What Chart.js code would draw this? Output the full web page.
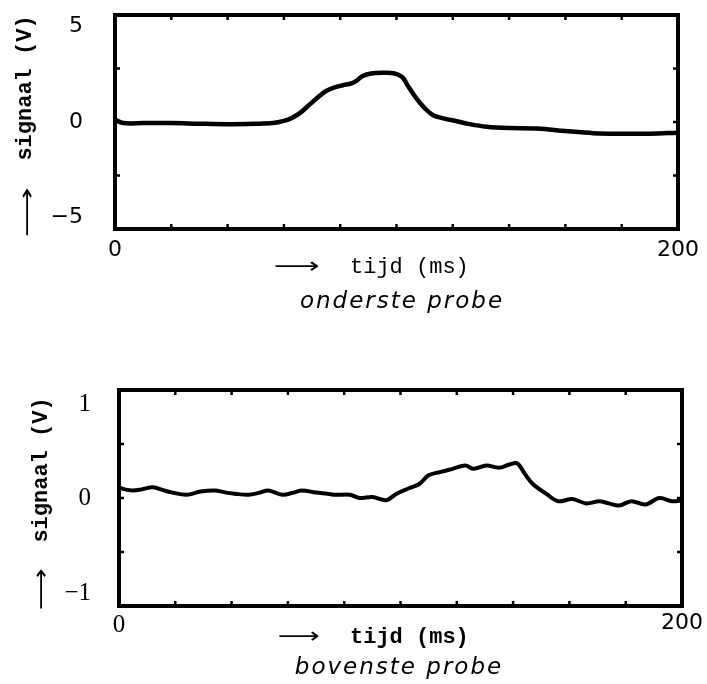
<!DOCTYPE html>
<html>
<head>
<meta charset="utf-8">
<script src="https://cdn.jsdelivr.net/npm/chart.js@4.4.1/dist/chart.umd.min.js"></script>
<style>
  html, body { margin: 0; padding: 0; background: #fff; }
  body { width: 707px; height: 684px; position: relative; overflow: hidden; }
  .box { position: absolute; left: 0; width: 707px; height: 342px; }
  #b1 { top: 0; }
  #b2 { top: 342px; }
</style>
</head>
<body>
<div class="box" id="b1"><canvas id="c1" width="707" height="342"></canvas></div>
<div class="box" id="b2"><canvas id="c2" width="707" height="342"></canvas></div>
<script>
// ---- data: top chart (onderste probe) ----
const timeTop = [0, 3, 10, 20, 30, 40, 50, 56, 60, 63, 66, 69, 72, 75, 78, 81, 84, 86, 88, 91, 95, 99, 102, 104, 106, 108, 110, 113, 117, 121, 126, 132, 140, 150, 160, 170, 180, 190, 200];
const signalTop = [0.1, -0.05, -0.05, -0.05, -0.08, -0.1, -0.08, -0.05, 0.05, 0.2, 0.45, 0.8, 1.15, 1.45, 1.62, 1.72, 1.8, 1.95, 2.15, 2.27, 2.3, 2.28, 2.1, 1.7, 1.3, 0.95, 0.65, 0.32, 0.16, 0.05, -0.1, -0.22, -0.28, -0.3, -0.42, -0.52, -0.55, -0.55, -0.5];
// ---- data: bottom chart (bovenste probe) ----
const timeBottom = [0, 2, 5, 8, 12, 16, 19, 24, 29, 34, 38, 41, 46, 50, 53, 58, 62, 65, 70, 74, 77, 82, 85.5, 90, 95, 98.6, 103, 106.7, 110, 114, 118.5, 123, 126, 130.5, 135, 138.7, 141.5, 144, 147, 151.7, 156, 161, 166, 170.6, 174, 177.6, 182, 187, 192, 196.5, 200];
const signalBottom = [0.1, 0.08, 0.07, 0.08, 0.1, 0.07, 0.05, 0.03, 0.06, 0.07, 0.05, 0.04, 0.03, 0.05, 0.07, 0.03, 0.05, 0.07, 0.05, 0.04, 0.03, 0.03, 0.0, 0.01, -0.02, 0.04, 0.09, 0.13, 0.21, 0.24, 0.27, 0.3, 0.27, 0.3, 0.28, 0.31, 0.32, 0.23, 0.13, 0.04, -0.03, -0.01, -0.05, -0.03, -0.05, -0.07, -0.03, -0.06, 0.0, -0.03, -0.02];
// ---- tick labels ----
const xTickValues = [0, 200];
const xTickLabels = ['0', '200'];
const topYTickValues = [-5, 0, 5];
const topYTickLabels = ['\u22125', '0', '5'];
const bottomYTickValues = [-1, 0, 1];
const bottomYTickLabels = ['\u22121', '0', '1'];
// ---- texts ----
const yTitle = 'signaal (V)';
const xTitle = 'tijd (ms)';
const subTop = 'onderste probe';
const subBottom = 'bovenste probe';

function drawArrow(ctx, cx, cy, len, vertical) {
  ctx.save();
  ctx.font = '22px "DejaVu Sans"';
  ctx.fillStyle = '#000';
  ctx.textAlign = 'center';
  ctx.textBaseline = 'middle';
  const w = ctx.measureText('\u27F6').width;
  ctx.translate(cx, cy);
  if (vertical) ctx.rotate(-Math.PI / 2);
  ctx.scale(len / w, 1);
  ctx.fillText('\u27F6', 0, 0);
  ctx.restore();
}

function framePlugin(cfg) {
  return {
    id: 'frame' + cfg.id,
    afterDatasetsDraw(chart) {
      const ctx = chart.ctx;
      const a = chart.chartArea;
      const xs = chart.scales.x, ys = chart.scales.y;
      ctx.save();
      ctx.strokeStyle = '#000';
      // inward tick marks
      ctx.lineWidth = 2.5;
      ctx.beginPath();
      xs.ticks.forEach(t => {
        const px = xs.getPixelForValue(t.value);
        ctx.moveTo(px, a.top); ctx.lineTo(px, a.top + 5);
        ctx.moveTo(px, a.bottom); ctx.lineTo(px, a.bottom - 5);
      });
      ys.ticks.forEach(t => {
        const py = ys.getPixelForValue(t.value);
        ctx.moveTo(a.left, py); ctx.lineTo(a.left + 5, py);
        ctx.moveTo(a.right, py); ctx.lineTo(a.right - 5, py);
      });
      ctx.stroke();
      // frame
      ctx.lineWidth = 4;
      ctx.strokeRect(a.left, a.top, a.right - a.left, a.bottom - a.top);
      // y tick labels
      ctx.fillStyle = '#000';
      ctx.font = cfg.yFont;
      ctx.textAlign = 'right';
      ctx.textBaseline = 'middle';
      cfg.yVals.forEach((v, i) => {
        let py = ys.getPixelForValue(v);
        if (v === ys.max) py += cfg.yInTop;
        if (v === ys.min) py -= cfg.yInBot;
        ctx.fillText(cfg.yLabs[i], a.left - cfg.yGap, py);
      });
      // y title
      ctx.save();
      ctx.translate(cfg.yTitleX, cfg.yTitleY);
      ctx.rotate(-Math.PI / 2);
      ctx.font = cfg.yTitleFont;
      ctx.textAlign = 'center';
      ctx.textBaseline = 'middle';
      ctx.fillText(yTitle, 0, 0);
      ctx.restore();
      drawArrow(ctx, cfg.yArrowX, cfg.yArrowY, cfg.yArrowLen, true);
      // x title
      drawArrow(ctx, cfg.xArrowX, cfg.xArrowY, cfg.xArrowLen, false);
      ctx.font = cfg.xTitleFont;
      ctx.textAlign = 'left';
      ctx.textBaseline = 'middle';
      ctx.fillText(xTitle, cfg.xTitleX, cfg.xArrowY);
      // subtitle
      ctx.font = 'italic 23px "DejaVu Sans"';
      ctx.letterSpacing = '2px';
      ctx.textAlign = 'center';
      ctx.fillText(cfg.sub, cfg.subX, cfg.subY);
      ctx.restore();
    }
  };
}

function makeChart(canvasId, times, sig, cfg) {
  const pts = times.map((t, i) => ({ x: t, y: sig[i] }));
  return new Chart(document.getElementById(canvasId), {
    type: 'line',
    data: { datasets: [{ data: pts, borderColor: '#000', borderWidth: cfg.lineW, pointRadius: 0, tension: 0.35, fill: false }] },
    options: {
      responsive: false,
      animation: false,
      devicePixelRatio: 1,
      layout: { padding: { left: cfg.padL, right: cfg.padR, top: cfg.padT, bottom: 0 } },
      plugins: { legend: { display: false }, tooltip: { enabled: false }, title: { display: false } },
      scales: {
        x: {
          type: 'linear', min: 0, max: 200,
          grid: { display: false, drawTicks: false },
          border: { display: false },
          afterFit(s) { s.height = cfg.xAxisH; },
          ticks: {
            stepSize: 20, autoSkip: false, maxRotation: 0, padding: cfg.xPad, color: '#000',
            font: ctx => (ctx.tick && ctx.tick.value === 0 ? cfg.x0Font : { family: 'DejaVu Sans', size: 22 }),
            callback: v => { const k = xTickValues.indexOf(v); return k >= 0 ? xTickLabels[k] : ''; }
          }
        },
        y: {
          min: cfg.yMin, max: cfg.yMax,
          grid: { display: false, drawTicks: false },
          border: { display: false },
          afterFit(s) { s.width = 0; },
          ticks: { stepSize: cfg.yStep, display: false }
        }
      }
    },
    plugins: [framePlugin(cfg)]
  });
}

makeChart('c1', timeTop, signalTop, {
  id: 1, lineW: 4.5, padL: 115, padR: 25, padT: 15, xAxisH: 113, xPad: 8,
  yMin: -5, yMax: 5, yStep: 2.5,
  yVals: topYTickValues, yLabs: topYTickLabels, yFont: '22px "DejaVu Sans"', yGap: 32, yInTop: 11, yInBot: 12,
  x0Font: { family: 'DejaVu Sans', size: 22 },
  yTitleFont: 'bold 22px "Liberation Mono"',
  xTitleFont: '22px "Liberation Mono"',
  yTitleX: 25, yTitleY: 88, yArrowX: 28, yArrowY: 212, yArrowLen: 50,
  xArrowX: 297, xArrowY: 267, xArrowLen: 46, xTitleX: 350,
  sub: subTop, subX: 402, subY: 302
});

makeChart('c2', timeBottom, signalBottom, {
  id: 2, lineW: 4, padL: 119, padR: 24, padT: 48, xAxisH: 78, xPad: 4,
  yMin: -1, yMax: 1, yStep: 0.5,
  yVals: bottomYTickValues, yLabs: bottomYTickLabels, yFont: '25px "Liberation Serif"', yGap: 28, yInTop: 14, yInBot: 13,
  x0Font: { family: 'Liberation Serif', size: 25 },
  yTitleFont: 'bold 22px "Liberation Mono"',
  xTitleFont: 'bold 22px "Liberation Mono"',
  yTitleX: 41, yTitleY: 128, yArrowX: 42, yArrowY: 247, yArrowLen: 42,
  xArrowX: 299, xArrowY: 295, xArrowLen: 42, xTitleX: 350,
  sub: subBottom, subX: 399, subY: 326
});
</script>
</body>
</html>
